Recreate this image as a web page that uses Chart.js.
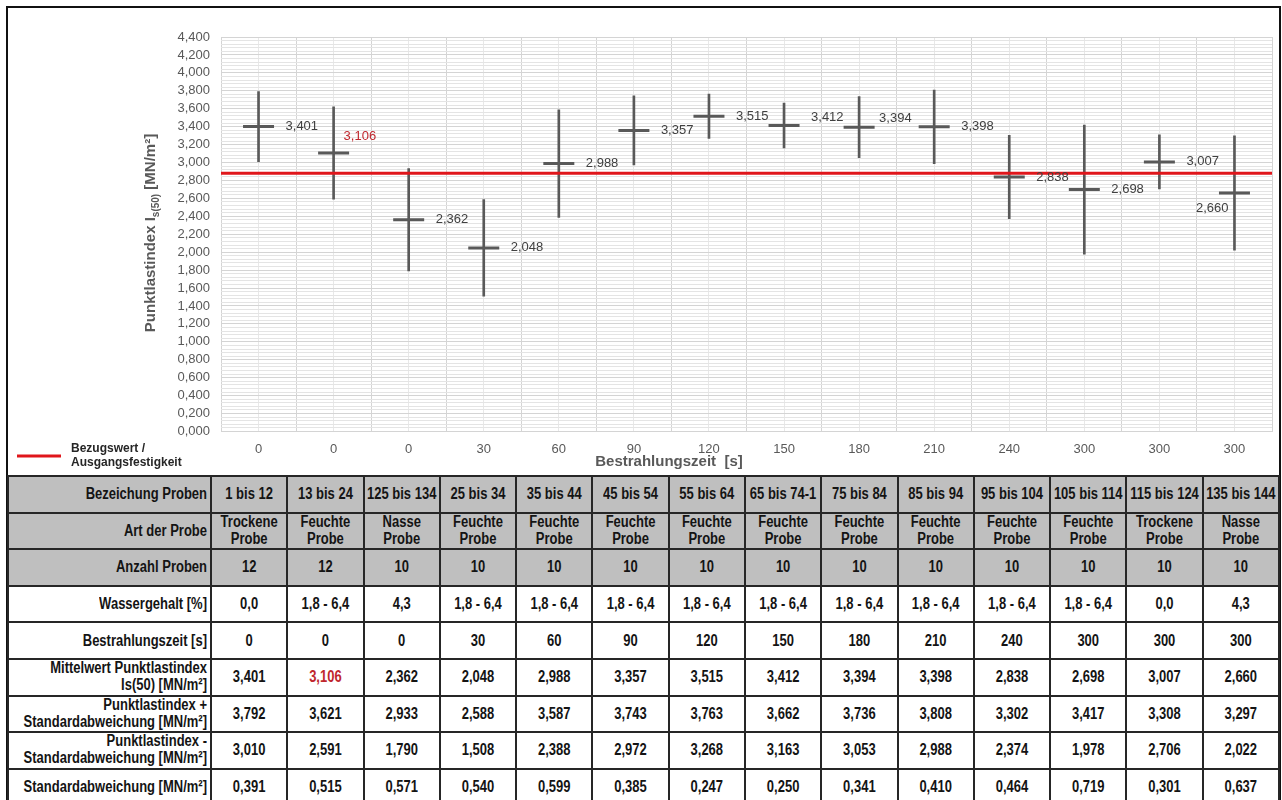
<!DOCTYPE html>
<html>
<head>
<meta charset="utf-8">
<title>Punktlastindex</title>
<script src="https://cdn.jsdelivr.net/npm/chart.js@4.4.1/dist/chart.umd.min.js"></script>
<style>
  html, body { margin: 0; padding: 0; background: #fff; }
  body { width: 1282px; height: 800px; position: relative; overflow: hidden;
         font-family: "Liberation Sans", Arial, sans-serif; }
  #frame { position: absolute; left: 6px; top: 6px; width: 1275px; height: 820px;
           border: 2px solid #111; box-sizing: border-box; }
  #chart { position: absolute; left: 0; top: 0; }
  #tbl { position: absolute; left: 7px; top: 475px; width: 1273px;
         border-collapse: collapse; table-layout: fixed; }
  #tbl td { border: 2px solid #262626; height: 36.6px; padding: 0; text-align: center;
            font-weight: bold; font-size: 13px; color: #141414; line-height: 14px;
            white-space: nowrap; box-sizing: border-box; }
  #tbl td span { display: inline-block; transform: scaleY(1.2); }
  #tbl tr.hd td { background: #bfbfbf; }
  #tbl td.lbl { text-align: right; padding-right: 3px; }
  #tbl td.em { color: #c0272d; }
</style>
</head>
<body>
<div id="frame"></div>
<canvas id="chart" width="1282" height="475"></canvas>
<table id="tbl"><colgroup><col style="width:203px"></colgroup><tbody></tbody></table>

<script>
// Sample groups and irradiation times
const sampleIds = ['1 bis 12', '13 bis 24', '125 bis 134', '25 bis 34', '35 bis 44', '45 bis 54',
  '55 bis 64', '65 bis 74-1', '75 bis 84', '85 bis 94', '95 bis 104', '105 bis 114', '115 bis 124', '135 bis 144'];
const sampleTypes = ['Trockene Probe', 'Feuchte Probe', 'Nasse Probe', 'Feuchte Probe', 'Feuchte Probe',
  'Feuchte Probe', 'Feuchte Probe', 'Feuchte Probe', 'Feuchte Probe', 'Feuchte Probe', 'Feuchte Probe',
  'Feuchte Probe', 'Trockene Probe', 'Nasse Probe'];
const sampleCounts = [12, 12, 10, 10, 10, 10, 10, 10, 10, 10, 10, 10, 10, 10];
const waterContent = ['0,0', '1,8 - 6,4', '4,3', '1,8 - 6,4', '1,8 - 6,4', '1,8 - 6,4', '1,8 - 6,4',
  '1,8 - 6,4', '1,8 - 6,4', '1,8 - 6,4', '1,8 - 6,4', '1,8 - 6,4', '0,0', '4,3'];
const times = ['0', '0', '0', '30', '60', '90', '120', '150', '180', '210', '240', '300', '300', '300'];

// Point load index Is(50) [MN/m²]
const meanIs50 = [3.401, 3.106, 2.362, 2.048, 2.988, 3.357, 3.515, 3.412, 3.394, 3.398, 2.838, 2.698, 3.007, 2.660];
const upperIs50 = [3.792, 3.621, 2.933, 2.588, 3.587, 3.743, 3.763, 3.662, 3.736, 3.808, 3.302, 3.417, 3.308, 3.297];
const lowerIs50 = [3.010, 2.591, 1.790, 1.508, 2.388, 2.972, 3.268, 3.163, 3.053, 2.988, 2.374, 1.978, 2.706, 2.022];
const stdDev = [0.391, 0.515, 0.571, 0.540, 0.599, 0.385, 0.247, 0.250, 0.341, 0.410, 0.464, 0.719, 0.301, 0.637];

// Reference strength (Bezugswert / Ausgangsfestigkeit)
const referenceValue = 2.88;

// Y-axis range and tick step
const yMin = 0, yMax = 4.4, yMinorStep = 0.04, minorPerMajor = 5;

// Where each value label sits relative to its mean marker
const labelPlacement = ['right', 'upRight', 'right', 'right', 'right', 'right', 'right',
  'raised', 'raisedNear', 'right', 'right', 'right', 'right', 'downLeft'];
const emphasisIndex = 1;

const fmt3 = v => v.toFixed(3).replace('.', ',');

const GRAY = '#595959';
const RED = '#e0161b';
const EM_RED = '#c0272d';

// ---- Table below the chart ----
(function buildTable() {
  const tb = document.querySelector('#tbl tbody');
  const rows = [
    { label: 'Bezeichung Proben', cells: sampleIds, hd: true },
    { label: 'Art der Probe', cells: sampleTypes.map(t => t.replace(' ', '<br>')), hd: true },
    { label: 'Anzahl Proben', cells: sampleCounts.map(String), hd: true },
    { label: 'Wassergehalt [%]', cells: waterContent },
    { label: 'Bestrahlungszeit [s]', cells: times },
    { label: 'Mittelwert Punktlastindex<br>Is(50) [MN/m²]', cells: meanIs50.map(fmt3), em: true },
    { label: 'Punktlastindex +<br>Standardabweichung [MN/m²]', cells: upperIs50.map(fmt3) },
    { label: 'Punktlastindex -<br>Standardabweichung [MN/m²]', cells: lowerIs50.map(fmt3) },
    { label: 'Standardabweichung [MN/m²]', cells: stdDev.map(fmt3) }
  ];
  rows.forEach(r => {
    const tr = document.createElement('tr');
    if (r.hd) tr.className = 'hd';
    let html = '<td class="lbl"><span>' + r.label + '</span></td>';
    r.cells.forEach((c, i) => {
      const cls = (r.em && i === emphasisIndex) ? ' class="em"' : '';
      html += '<td' + cls + '><span>' + c + '</span></td>';
    });
    tr.innerHTML = html;
    tb.appendChild(tr);
  });
})();

// ---- Extra drawing: reference line, value labels, axis titles, legend ----
const decorations = {
  id: 'decorations',
  afterDatasetsDraw(chart) {
    const { ctx, chartArea, scales } = chart;
    const y = scales.y, x = scales.x;

    // reference line across the plot
    const ry = y.getPixelForValue(referenceValue);
    ctx.save();
    ctx.strokeStyle = RED;
    ctx.lineWidth = 3;
    ctx.beginPath();
    ctx.moveTo(chartArea.left, ry);
    ctx.lineTo(chartArea.right, ry);
    ctx.stroke();
    ctx.restore();

    // value labels next to the mean markers
    ctx.save();
    ctx.font = '13px "Liberation Sans", Arial, sans-serif';
    ctx.textBaseline = 'middle';
    meanIs50.forEach((v, i) => {
      const px = x.getPixelForValue(i);
      const py = y.getPixelForValue(v);
      let tx = px + 27, ty = py, align = 'left';
      switch (labelPlacement[i]) {
        case 'upRight': tx = px + 10; ty = py - 17; break;
        case 'raised': ty = py - 8; break;
        case 'raisedNear': tx = px + 20; ty = py - 9; break;
        case 'downLeft': tx = px - 6; ty = py + 15; align = 'right'; break;
      }
      ctx.textAlign = align;
      ctx.fillStyle = i === emphasisIndex ? EM_RED : '#404040';
      ctx.fillText(fmt3(v), tx, ty);
    });
    ctx.restore();
  },
  afterDraw(chart) {
    const { ctx } = chart;
    ctx.save();
    ctx.fillStyle = GRAY;

    // y-axis title with subscript
    const big = 'bold 15px "Liberation Sans", Arial, sans-serif';
    const small = 'bold 10px "Liberation Sans", Arial, sans-serif';
    const p1 = 'Punktlastindex I', p2 = 's(50)', p3 = ' [MN/m²]';
    ctx.font = big; const w1 = ctx.measureText(p1).width, w3 = ctx.measureText(p3).width;
    ctx.font = small; const w2 = ctx.measureText(p2).width;
    const total = w1 + w2 + w3;
    ctx.translate(150, 233);
    ctx.rotate(-Math.PI / 2);
    ctx.textBaseline = 'alphabetic';
    ctx.textAlign = 'left';
    let cx = -total / 2;
    ctx.font = big; ctx.fillText(p1, cx, 5); cx += w1;
    ctx.font = small; ctx.fillText(p2, cx, 9); cx += w2;
    ctx.font = big; ctx.fillText(p3, cx, 5);
    ctx.restore();

    // x-axis title
    ctx.save();
    ctx.fillStyle = GRAY;
    ctx.font = 'bold 15px "Liberation Sans", Arial, sans-serif';
    ctx.textAlign = 'center';
    ctx.textBaseline = 'middle';
    ctx.fillText('Bestrahlungszeit  [s]', 669, 462);
    ctx.restore();

    // legend
    ctx.save();
    ctx.strokeStyle = RED;
    ctx.lineWidth = 3;
    ctx.beginPath();
    ctx.moveTo(17, 456);
    ctx.lineTo(61, 456);
    ctx.stroke();
    ctx.fillStyle = '#262626';
    ctx.font = 'bold 12px "Liberation Sans", Arial, sans-serif';
    ctx.textAlign = 'left';
    ctx.textBaseline = 'middle';
    ctx.fillText('Bezugswert /', 71, 449);
    ctx.fillText('Ausgangsfestigkeit', 71, 463);
    ctx.restore();
  }
};

new Chart(document.getElementById('chart'), {
  data: {
    labels: times,
    datasets: [
      {
        type: 'bar',
        label: 'Standardabweichung',
        data: lowerIs50.map((lo, i) => [lo, upperIs50[i]]),
        backgroundColor: GRAY,
        borderWidth: 0,
        barThickness: 2,
        xAxisID: 'x', yAxisID: 'y',
        order: 2
      },
      {
        type: 'line',
        label: 'Mittelwert Punktlastindex',
        data: meanIs50,
        showLine: false,
        pointStyle: 'line',
        pointRadius: 15.5,
        pointHoverRadius: 15.5,
        borderColor: GRAY,
        borderWidth: 3,
        xAxisID: 'x', yAxisID: 'y',
        order: 1
      }
    ]
  },
  options: {
    responsive: false,
    animation: false,
    devicePixelRatio: 1,
    layout: { autoPadding: false, padding: { top: 37, right: 10, left: 0, bottom: 0 } },
    plugins: { legend: { display: false }, tooltip: { enabled: false } },
    scales: {
      x: {
        type: 'category',
        offset: true,
        grid: { offset: true, color: '#d4d4d4', drawTicks: false },
        border: { display: false },
        ticks: { color: GRAY, font: { size: 13, family: '"Liberation Sans", Arial, sans-serif' }, padding: 10 },
        afterFit(s) { s.height = 43.5; s.paddingLeft = 0; s.paddingRight = 0; }
      },
      xMinor: {
        type: 'category',
        position: 'bottom',
        offset: true,
        grid: { offset: false, color: '#e8e8e8', drawTicks: false },
        border: { display: false },
        ticks: { display: false },
        afterFit(s) { s.height = 0; s.paddingLeft = 0; s.paddingRight = 0; }
      },
      y: {
        min: yMin, max: yMax,
        ticks: {
          stepSize: yMinorStep,
          autoSkip: false,
          callback: (v, i) => (i % minorPerMajor === 0 ? fmt3(v) : ''),
          color: GRAY,
          font: { size: 13, family: '"Liberation Sans", Arial, sans-serif' },
          padding: 11
        },
        grid: { color: c => (c.index % minorPerMajor === 0 ? '#d4d4d4' : '#e4e4e4'), drawTicks: false },
        border: { display: false },
        afterFit(s) { s.width = 221; }
      }
    }
  },
  plugins: [decorations]
});
</script>
</body>
</html>
